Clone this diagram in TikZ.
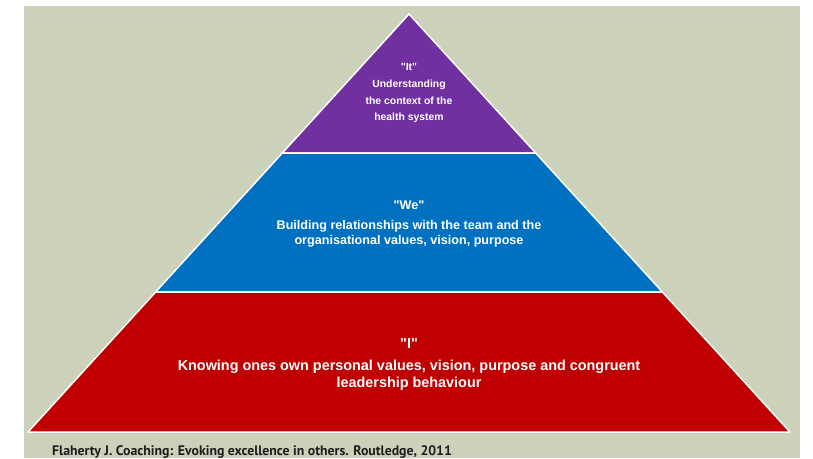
\documentclass[tikz,border=0pt]{standalone}
\usepackage{fontspec}
\setmainfont{PT Sans}
\newfontfamily\lblfont{Liberation Sans}
\definecolor{bgc}{HTML}{CCD1BA}
\definecolor{topc}{HTML}{7030A0}
\definecolor{midc}{HTML}{0070C0}
\definecolor{botc}{HTML}{C00000}
\definecolor{capc}{HTML}{1E1E1E}
\tikzset{
  layer/.style={draw=white, line width=1.5pt, line join=round},
  lbl/.style={text=white, anchor=base, inner sep=0pt},
}
\begin{document}
\begin{tikzpicture}[x=1pt,y=-1pt]
\useasboundingbox (0,0) rectangle (813,458);
\fill[bgc] (24,6) rectangle (800,458);
% layers
\coordinate (apex) at (409,14);
\coordinate (l1) at (282.3,153);
\coordinate (r1) at (535.7,153);
\coordinate (l2) at (155.6,292);
\coordinate (r2) at (662.4,292);
\coordinate (bl) at (28,432);
\coordinate (br) at (790,432);
\filldraw[layer, fill=topc] (apex) -- (r1) -- (l1) -- cycle;
\filldraw[layer, fill=midc] (l1) -- (r1) -- (r2) -- (l2) -- cycle;
\filldraw[layer, fill=botc] (l2) -- (r2) -- (br) -- (bl) -- cycle;
% top text
\begin{scope}[lbl/.append style={font=\lblfont\bfseries\fontsize{10.4}{12}\selectfont}]
\node[lbl] (t0) at (409,70) {"It"};
\node[lbl] (t1) at (409,87) {Understanding};
\node[lbl] (t2) at (409,104) {the context of the};
\node[lbl] (t3) at (409,120.5) {health system};
\end{scope}
% middle text
\begin{scope}[lbl/.append style={font=\lblfont\bfseries\fontsize{12.6}{14}\selectfont}]
\node[lbl] (m0) at (409,209) {"We"};
\node[lbl] (m1) at (409,229) {Building relationships with the team and the};
\node[lbl] (m2) at (409,244) {organisational values, vision, purpose};
\end{scope}
% bottom text
\begin{scope}[lbl/.append style={font=\lblfont\bfseries\fontsize{14.4}{16}\selectfont}]
\node[lbl] (b0) at (409,348) {"I"};
\node[lbl] (b1) at (409,370) {Knowing ones own personal values, vision, purpose and congruent};
\node[lbl] (b2) at (409,387) {leadership behaviour};
\end{scope}
\node[anchor=base west, inner sep=0pt, text=capc, font=\bfseries\fontsize{13.8}{15}\selectfont] (cap) at (52,455.5) {Flaherty J. Coaching: Evoking excellence in others. Routledge, 2011};
\end{tikzpicture}
\end{document}
